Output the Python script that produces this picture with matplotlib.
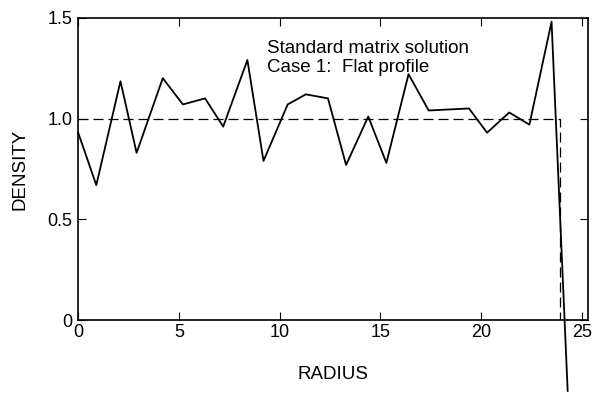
import matplotlib
matplotlib.use("Agg")
import matplotlib.pyplot as plt

radius = [0.0, 0.9, 2.1, 2.9, 4.2, 5.2, 6.3, 7.2, 8.4, 9.2, 10.4, 11.3, 12.4, 13.3,
          14.4, 15.3, 16.4, 17.4, 18.4, 19.4, 20.3, 21.4, 22.4, 23.5, 24.3]
density = [0.93, 0.67, 1.185, 0.83, 1.20, 1.07, 1.10, 0.96, 1.29, 0.79, 1.07, 1.12,
           1.10, 0.77, 1.01, 0.78, 1.22, 1.04, 1.045, 1.05, 0.93, 1.03, 0.97, 1.48, -0.35]

flat_x = [0.0, 23.9, 23.9]
flat_y = [1.0, 1.0, 0.0]

xticks = [0, 5, 10, 15, 20, 25]
yticks = [0, 0.5, 1.0, 1.5]
ytick_labels = ["0", "0.5", "1.0", "1.5"]

plt.rcParams['font.family'] = ['Liberation Sans', 'DejaVu Sans']

fig = plt.figure(figsize=(6.06, 3.93), dpi=100)
ax = fig.add_axes([0.129, 0.185, 0.841, 0.77])

ax.plot(flat_x, flat_y, color='black', lw=0.9, dashes=(8, 4))
ax.plot(radius, density, color='black', lw=1.3, clip_on=False)

ax.set_xlim(0, 25.3)
ax.set_ylim(0, 1.5)
ax.set_xticks(xticks)
ax.set_yticks(yticks)
ax.set_yticklabels(ytick_labels)
ax.tick_params(direction='in', top=True, right=True, length=6, labelsize=13)
ax.tick_params(axis='x', pad=3)
ax.tick_params(axis='y', pad=4)
for s in ax.spines.values():
    s.set_linewidth(1.2)

ax.set_xlabel("RADIUS", fontsize=13.5, labelpad=18)
ax.set_ylabel("DENSITY", fontsize=13.5, labelpad=14)

ax.text(0.37, 0.925, "Standard matrix solution\nCase 1:  Flat profile",
        transform=ax.transAxes, fontsize=13.5, va='top', ha='left', linespacing=1.1)

fig.savefig("out.png", dpi=100)
